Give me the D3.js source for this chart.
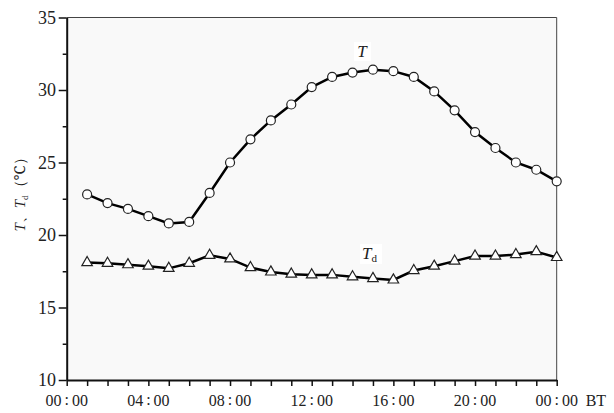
<!DOCTYPE html>
<html>
<head>
<meta charset="utf-8">
<script src="https://cdn.jsdelivr.net/npm/d3@7"></script>
<style>
  body { margin: 0; background: #fff; }
  svg { display: block; }
  text { fill: #222; }
</style>
</head>
<body>
<svg width="614" height="413" font-family="'Liberation Serif', 'Times New Roman', Times, 'Noto Serif', serif"></svg>
<script>
// hours after 00:00 (1..24)
const hours = d3.range(1, 25);
// air temperature T
const tempT = [22.8, 22.2, 21.8, 21.3, 20.8, 20.9, 22.9, 25.0, 26.6, 27.9, 29.0, 30.2,
               30.9, 31.2, 31.4, 31.3, 30.9, 29.9, 28.6, 27.1, 26.0, 25.0, 24.5, 23.7];
// dew point Td
const tempTd = [18.1, 18.05, 17.95, 17.85, 17.7, 18.05, 18.6, 18.35, 17.75, 17.45, 17.3, 17.25,
                17.25, 17.12, 17.0, 16.9, 17.55, 17.85, 18.2, 18.55, 18.55, 18.65, 18.85, 18.45];
const xTickHours = [0, 4, 8, 12, 16, 20, 24];
const xTickLabels = [["00", "00"], ["04", "00"], ["08", "00"], ["12", "00"], ["16", "00"], ["20", "00"], ["00", "00"]];
const yTicks = [10, 15, 20, 25, 30, 35];

const margin = {top: 17.5, right: 57.3, bottom: 33, left: 66.7};
const width = 614, height = 413;

const svg = d3.select("svg");

const x = d3.scaleLinear()
  .domain([0, 24])
  .range([margin.left, width - margin.right]);
const y = d3.scaleLinear()
  .domain([10, 35])
  .range([height - margin.bottom, margin.top]);

// plot background + frame
svg.append("rect")
  .attr("x", x(0)).attr("y", y(35))
  .attr("width", x(24) - x(0)).attr("height", y(10) - y(35))
  .attr("fill", "#f9f9f9");
svg.append("line")
  .attr("x1", x(0)).attr("x2", x(24)).attr("y1", y(35)).attr("y2", y(35))
  .attr("stroke", "#444").attr("stroke-width", 1);
svg.append("line")
  .attr("x1", x(24)).attr("x2", x(24)).attr("y1", y(35)).attr("y2", y(10))
  .attr("stroke", "#444").attr("stroke-width", 1);

// x axis: hourly ticks
const xAxis = svg.append("g")
  .attr("transform", `translate(0,${y(10)})`)
  .call(d3.axisBottom(x).tickValues(d3.range(0, 25)).tickSize(6).tickFormat("").tickSizeOuter(0));
xAxis.select(".domain").attr("stroke", "#111").attr("stroke-width", 2);
xAxis.selectAll(".tick line").attr("stroke", "#111").attr("stroke-width", 1.5);

// x labels "hh:mm" with spaced colon
const xl = svg.selectAll(".xlab")
  .data(xTickLabels)
  .join("text")
  .attr("class", "xlab")
  .attr("x", (d, i) => x(xTickHours[i]))
  .attr("y", 406)
  .attr("text-anchor", "middle")
  .attr("font-size", 16);
xl.append("tspan").text(d => d[0]);
xl.append("tspan").attr("dx", 3).attr("dy", -1).text(":");
xl.append("tspan").attr("dx", 3).attr("dy", 1).text(d => d[1]);

svg.append("text")
  .attr("x", x(24) + 29)
  .attr("y", 406)
  .attr("font-size", 16)
  .text("BT");

// y axis
const yAxis = svg.append("g")
  .attr("transform", `translate(${x(0)},0)`)
  .call(d3.axisLeft(y).tickValues(d3.range(10, 35.1, 2.5)).tickSize(0).tickFormat("").tickSizeOuter(0));
yAxis.select(".domain").attr("stroke", "#111").attr("stroke-width", 2);
yAxis.selectAll(".tick line")
  .attr("x2", d => (d % 5 === 0 ? -8 : -4))
  .attr("stroke", "#111").attr("stroke-width", 1.5);

svg.selectAll(".ylab")
  .data(yTicks)
  .join("text")
  .attr("class", "ylab")
  .attr("x", 56)
  .attr("y", d => y(d) + 6)
  .attr("text-anchor", "end")
  .attr("font-size", 18)
  .text(d => d);

// y axis title
const yTitle = svg.append("text")
  .attr("transform", "translate(25,191) rotate(-90)")
  .attr("text-anchor", "middle")
  .attr("font-size", 15);
yTitle.append("tspan").attr("font-style", "italic").text("T");
yTitle.append("tspan").text("\u3001");
yTitle.append("tspan").attr("font-style", "italic").text("T");
yTitle.append("tspan").attr("font-size", 9).attr("dy", 3).text("d");
yTitle.append("tspan").attr("dy", -3).text("\uFF08\u2103\uFF09");

// lines
const line = (vals) => d3.line()
  .x((d, i) => x(hours[i]))
  .y(d => y(d))(vals);

svg.append("path")
  .attr("d", line(tempT))
  .attr("fill", "none").attr("stroke", "#000").attr("stroke-width", 2.5);
svg.append("path")
  .attr("d", line(tempTd))
  .attr("fill", "none").attr("stroke", "#000").attr("stroke-width", 2.5);

// markers
svg.selectAll(".ptT")
  .data(tempT)
  .join("circle")
  .attr("class", "ptT")
  .attr("cx", (d, i) => x(hours[i]))
  .attr("cy", d => y(d))
  .attr("r", 4.5)
  .attr("fill", "#fff").attr("stroke", "#222").attr("stroke-width", 1.2);

const tri = d3.symbol().type(d3.symbolTriangle).size(48);
svg.selectAll(".ptTd")
  .data(tempTd)
  .join("path")
  .attr("class", "ptTd")
  .attr("d", tri)
  .attr("transform", (d, i) => `translate(${x(hours[i])},${y(d)})`)
  .attr("fill", "#fff").attr("stroke", "#222").attr("stroke-width", 1.2);

// series labels
svg.append("rect").attr("x", 354).attr("y", 42).attr("width", 17).attr("height", 19).attr("fill", "#fff");
svg.append("text")
  .attr("x", 362).attr("y", 57)
  .attr("text-anchor", "middle")
  .attr("font-size", 17).attr("font-style", "italic")
  .text("T");

svg.append("rect").attr("x", 360).attr("y", 244).attr("width", 22).attr("height", 20).attr("fill", "#fff");
const tdLab = svg.append("text")
  .attr("x", 362).attr("y", 259)
  .attr("font-size", 17);
tdLab.append("tspan").attr("font-style", "italic").text("T");
tdLab.append("tspan").attr("font-size", 11).attr("dy", 3).text("d");
</script>
</body>
</html>
